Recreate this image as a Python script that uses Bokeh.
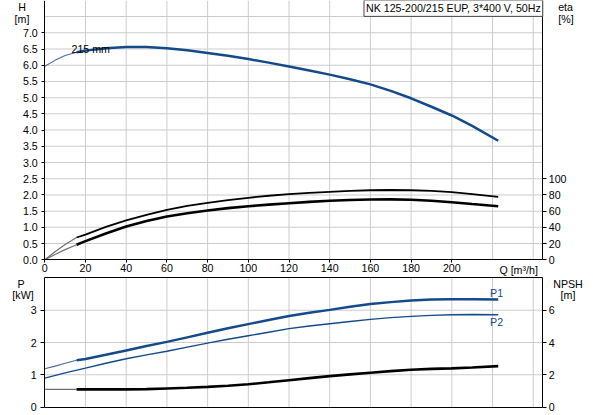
from bokeh.plotting import figure
from bokeh.models import Range1d, LinearAxis, FixedTicker, Label, NumeralTickFormatter
from bokeh.embed import file_html
from bokeh.resources import INLINE

# ---------------- data ----------------
q_lo = [0, 5, 10, 15.6]
q_hi = [15.6, 20, 30, 40, 50, 60, 70, 80, 90, 100, 110, 120, 130, 140, 150, 160, 170, 180, 190, 200, 210, 222.8]

h_lo = [5.97, 6.15, 6.30, 6.40]
h_hi = [6.40, 6.45, 6.52, 6.56, 6.56, 6.52, 6.46, 6.38, 6.29, 6.19, 6.08, 5.96, 5.84, 5.71, 5.57, 5.41, 5.21, 4.98, 4.72, 4.45, 4.13, 3.67]

eta_a_lo = [0, 10, 19, 27.5]
eta_a_hi = [27.5, 31, 40.5, 48.5, 55.5, 61.7, 66.5, 70.3, 73.6, 76.5, 79, 80.9, 82.5, 83.9, 85, 85.8, 86.1, 85.8, 85, 83.4, 81, 77.7]
eta_b_lo = [0, 6.5, 12.5, 18.5]
eta_b_hi = [18.5, 23, 32.5, 41, 47.8, 53.4, 57.5, 60.8, 63.7, 66.1, 68.1, 69.8, 71.4, 72.8, 73.8, 74.4, 74.5, 74, 72.8, 71, 68.8, 66.1]

p1_lo = [1.19, 1.27, 1.36, 1.45]
p1_hi = [1.45, 1.49, 1.62, 1.755, 1.89, 2.02, 2.16, 2.30, 2.44, 2.57, 2.70, 2.82, 2.92, 3.01, 3.11, 3.19, 3.25, 3.30, 3.33, 3.34, 3.34, 3.33]

q_p2 = [0, 10, 20, 30, 40, 50, 60, 70, 80, 90, 100, 110, 120, 130, 140, 150, 160, 170, 180, 190, 200, 210, 222.8]
p2_all = [0.90, 1.06, 1.21, 1.36, 1.50, 1.62, 1.73, 1.86, 1.98, 2.10, 2.21, 2.32, 2.43, 2.51, 2.58, 2.65, 2.715, 2.77, 2.81, 2.84, 2.86, 2.865, 2.86]

npsh_lo = [1.1, 1.1, 1.1, 1.1]
npsh_hi = [1.1, 1.1, 1.1, 1.1, 1.12, 1.16, 1.2, 1.26, 1.33, 1.42, 1.54, 1.67, 1.80, 1.92, 2.03, 2.13, 2.23, 2.32, 2.37, 2.40, 2.46, 2.54]

q_ticks = [0, 20, 40, 60, 80, 100, 120, 140, 160, 180, 200]
q_grid = [20, 40, 60, 80, 100, 120, 140, 160, 180, 200, 220, 240]
h_ticks = [0.0, 0.5, 1.0, 1.5, 2.0, 2.5, 3.0, 3.5, 4.0, 4.5, 5.0, 5.5, 6.0, 6.5, 7.0]
h_grid = [0.5, 1.0, 1.5, 2.0, 2.5, 3.0, 3.5, 4.0, 4.5, 5.0, 5.5, 6.0, 6.5, 7.0, 7.5]
eta_ticks = [0, 20, 40, 60, 80, 100]
p_ticks = [0, 1, 2, 3]
p_grid = [1, 2, 3]
npsh_ticks = [0, 2, 4, 6]

title_text = "NK 125-200/215 EUP, 3*400 V, 50Hz"
curve_label = "215 mm"

BLUE = "#124a8a"
THIN_BLUE = "#4a6b9c"
THIN_BLACK = "#6e6e6e"
GRID = "#cccccc"
FONT = "Liberation Sans"
FS = "8pt"

Q_MAX = 244.7   # right edge of both panels
H_MAX = 8.0     # top of the head panel
P_MAX = 4.0     # top of the power panel

# one frame that covers the whole picture; panels are placed through the ranges
W, H = 593, 415
X0, XS = 44.3, 2.035          # px of Q=0, px per m3/h
HY0, HYS = 259.3, 32.43       # px of H=0, px per m
PY0, PYS = 406.7, 32.33       # px of P=0, px per kW

x_range = Range1d(-X0 / XS, (W - X0) / XS)
h_range = Range1d((HY0 - H) / HYS, HY0 / HYS)
p_range = Range1d((PY0 - H) / PYS, PY0 / PYS)

p = figure(width=W, height=H, x_range=x_range, y_range=h_range,
           output_backend="svg", toolbar_location=None, title=None,
           x_axis_location=None, y_axis_location=None,
           min_border=0, min_border_left=0, min_border_right=0, min_border_top=0, min_border_bottom=0)
p.background_fill_color = "white"
p.border_fill_color = "white"
p.outline_line_color = None
p.grid.visible = False
p.extra_y_ranges = {
    "eta": Range1d(h_range.start * 40, h_range.end * 40),
    "p": p_range,
    "npsh": Range1d(p_range.start * 2, p_range.end * 2),
}


def make_axis(side, ticks, loc, bounds, y_name="default", tick_out=3, standoff=3, fmt=None,
              color="black", level="guide"):
    ax = LinearAxis(ticker=FixedTicker(ticks=ticks), fixed_location=loc, bounds=bounds,
                    y_range_name=y_name, level=level)
    ax.axis_line_color = color
    ax.axis_line_width = 1
    ax.major_tick_line_color = color
    ax.major_tick_out = tick_out
    ax.major_tick_in = 0
    ax.minor_tick_line_color = None
    ax.major_label_text_font = FONT
    ax.major_label_text_font_size = FS
    ax.major_label_text_color = "black"
    ax.major_label_standoff = standoff
    if fmt is not None:
        ax.formatter = NumeralTickFormatter(format=fmt)
    p.add_layout(ax, side)
    return ax


def add_text(x, y, text, align="center", baseline="top", color="black", y_name="default"):
    p.add_layout(Label(x=x, y=y, text=text, text_align=align, text_baseline=baseline,
                       y_range_name=y_name,
                       text_font=FONT, text_font_size=FS, text_color=color))


# ---------------- grid lines as thin filled bars (about 1 px wide) ----------------
p.vbar(x=q_grid, width=1.0 / XS, bottom=0, top=H_MAX, fill_color=GRID, line_color=None)
p.hbar(y=h_grid, height=1.0 / HYS, left=0, right=Q_MAX, fill_color=GRID, line_color=None)
p.vbar(x=q_grid, width=1.0 / XS, bottom=0, top=P_MAX, fill_color=GRID, line_color=None,
       y_range_name="p")
p.hbar(y=p_grid, height=1.0 / PYS, left=0, right=Q_MAX, fill_color=GRID, line_color=None,
       y_range_name="p")

# ---------------- axes: head panel ----------------
make_axis("left", h_ticks, 0, (0, H_MAX), tick_out=3, standoff=4, fmt="0.0")
make_axis("below", q_ticks, 0, (0, Q_MAX), tick_out=3, standoff=1)
make_axis("right", eta_ticks, Q_MAX, (0, H_MAX * 40), y_name="eta", tick_out=4, standoff=2)

# ---------------- axes: power panel ----------------
make_axis("left", p_ticks, 0, (0, P_MAX), y_name="p", tick_out=4, standoff=4)
make_axis("right", npsh_ticks, Q_MAX, (0, P_MAX * 2), y_name="npsh", tick_out=4, standoff=2)
make_axis("above", [], P_MAX, (0, Q_MAX), y_name="p")
make_axis("below", [], 0, (0, Q_MAX), y_name="p")

# ---------------- curves: head panel ----------------
p.line(q_lo, h_lo, color=THIN_BLUE, line_width=1.1)
p.line(q_hi, h_hi, color=BLUE, line_width=2.5)
p.line(q_lo, eta_a_lo, color=THIN_BLACK, line_width=1.2, y_range_name="eta")
p.line(q_hi, eta_a_hi, color="black", line_width=1.8, y_range_name="eta")
p.line(q_lo, eta_b_lo, color=THIN_BLACK, line_width=1.2, y_range_name="eta")
p.line(q_hi, eta_b_hi, color="black", line_width=2.6, y_range_name="eta")

# ---------------- curves: power panel ----------------
p.line(q_lo, p1_lo, color=THIN_BLUE, line_width=1.1, y_range_name="p")
p.line(q_hi, p1_hi, color=BLUE, line_width=2.5, y_range_name="p")
p.line(q_p2, p2_all, color=BLUE, line_width=1.4, y_range_name="p")
p.line(q_lo, npsh_lo, color=THIN_BLACK, line_width=1.2, y_range_name="npsh")
p.line(q_hi, npsh_hi, color="black", line_width=2.6, y_range_name="npsh")

# ---------------- texts ----------------
add_text(13.1, 6.485, curve_label, align="left", baseline="middle")
add_text(-11.2, 7.99, "H")
add_text(-11.2, 7.625, "[m]")
add_text(255.9, 7.99, "eta")
add_text(256.1, 7.625, "[%]")
add_text(242.3, -0.315, "Q [m³/h]", align="right", baseline="middle")
p.add_layout(Label(x=Q_MAX, y=H_MAX, text=title_text, text_align="right", text_baseline="top",
                   text_font=FONT, text_font_size=FS, text_color="black",
                   border_line_color="#444444", border_line_width=1,
                   background_fill_color="white", padding=2))

add_text(222, 3.52, "P1", baseline="middle", color=BLUE, y_name="p")
add_text(222, 2.64, "P2", baseline="middle", color=BLUE, y_name="p")
add_text(-11.7, 4.0, "P", y_name="p")
add_text(-10.7, 3.65, "[kW]", y_name="p")
add_text(257.1, 4.0, "NPSH", y_name="p")
add_text(257.1, 3.65, "[m]", y_name="p")

open("out.html", "w").write(file_html(p, INLINE))
